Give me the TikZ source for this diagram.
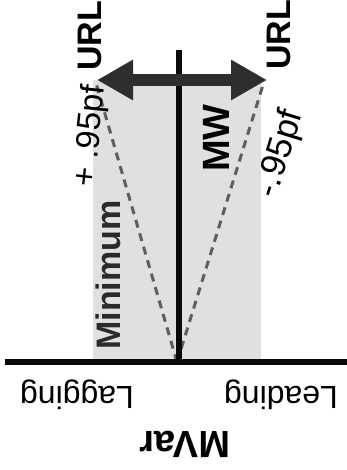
\documentclass[tikz,border=0pt]{standalone}
\usepackage{fontspec}
\setmainfont{Liberation Sans}
\usetikzlibrary{arrows.meta}
\definecolor{axisInk}{HTML}{0a0a0a}
\definecolor{arrowInk}{HTML}{2e2e2e}
\definecolor{bandFill}{HTML}{e0e0e0}
\definecolor{dashInk}{HTML}{5e5e5e}
\definecolor{minInk}{HTML}{2a2a2a}
\def\bandL{93}
\def\bandR{261}
\def\axisY{362}
\def\arrowY{80}
\def\poleX{179}

\begin{document}
\begin{tikzpicture}[
    x=1pt, y=-1pt,
    axis/.style={draw=axisInk, line width=6pt},
    reach/.style={{Triangle[length=36pt,width=38pt]}-{Triangle[length=36pt,width=38pt]},
                  draw=arrowInk, line width=12pt},
    pfline/.style={draw=dashInk, line width=3pt, dash pattern=on 8pt off 6pt},
    big/.style={font=\fontsize{34}{34}\selectfont\bfseries, inner sep=0pt},
    mid/.style={font=\fontsize{32}{32}\selectfont, inner sep=0pt},
    pflbl/.style={font=\fontsize{33}{33}\selectfont, inner sep=0pt},
    ]
\useasboundingbox (0,0) rectangle (347,470);

% ====================================================================
% Operating band
% ====================================================================
\fill[bandFill] (\bandL,\arrowY) rectangle (\bandR,\axisY);

\coordinate (origin)  at (177,\axisY);
\coordinate (lagEnd)  at (96,83);
\coordinate (leadEnd) at (263,85);
\coordinate (axisL)   at (5,\axisY);
\coordinate (axisR)   at (347,\axisY);
\coordinate (poleTop) at (\poleX,50);
\coordinate (poleBot) at (\poleX,\axisY);
\coordinate (reachL)  at (97,\arrowY);
\coordinate (reachR)  at (267,\arrowY);

% power factor limits
\draw[pfline] (origin) -- (lagEnd);
\draw[pfline] (origin) -- (leadEnd);

% axes
\draw[axis] (poleTop) -- (poleBot);
\draw[axis] (axisL) -- (axisR);

% MVar reach
\draw[reach] (reachL) -- (reachR);

% ====================================================================
% Labels
% ====================================================================
\node[big, rotate=90] (urlLag)  at (90,36)  {URL};
\node[big, rotate=90] (urlLead) at (279,35) {URL};
\node[big, rotate=90, font=\fontsize{38}{38}\selectfont\bfseries] (mwLbl) at (216,138) {MW};
\node[big, rotate=90, text=minInk] (minLbl) at (108,275) {Minimum};
\node[pflbl, rotate=84] (lagPf)  at (91,136) {+ .95pf};
\node[font=\fontsize{35}{35}\selectfont, inner sep=0pt, rotate=73] (leadPf) at (281,154) {-.95pf};
\node[mid, rotate=180] (lagLbl)  at (77,395)  {Lagging};
\node[mid, rotate=180] (leadLbl) at (281,395) {Leading};
\node[big, rotate=180, font=\fontsize{38}{38}\selectfont\bfseries] (mvarLbl) at (185,444) {MVar};

\end{tikzpicture}
\end{document}
